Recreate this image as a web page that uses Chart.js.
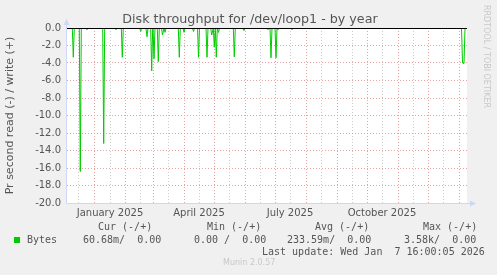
<!DOCTYPE html>
<html>
<head>
<meta charset="utf-8">
<script src="https://cdn.jsdelivr.net/npm/chart.js@4/dist/chart.umd.min.js"></script>
<style>
  html, body { margin: 0; padding: 0; background: #f0f0f0; }
  #wrap { position: relative; width: 497px; height: 275px; overflow: hidden; }
  #chart { position: absolute; left: 0; top: 0; }
  .title { position: absolute; left: 0; width: 500px; top: 11px; text-align: center;
           font-family: "DejaVu Sans", sans-serif; font-size: 12.7px; line-height: 16px; color: #555; }
  .txt { position: absolute; font-family: "DejaVu Sans Mono", monospace; font-size: 10px;
         line-height: 12px; color: #555; white-space: pre; }
  .swatch { position: absolute; left: 14px; top: 237px; width: 6px; height: 6px; background: #00cc00; }
  .munin { position: absolute; left: 223px; top: 258px; font-family: "DejaVu Sans", sans-serif;
           font-size: 8px; line-height: 10px; color: #c8c8c8; }
  .rrd { position: absolute; left: 482px; top: 5px; writing-mode: vertical-rl;
         font-family: "DejaVu Sans", sans-serif; font-size: 8px; color: #c8c8c8; }
</style>
</head>
<body>
<div id="wrap">
  <canvas id="chart" width="497" height="275"></canvas>
  <div class="title">Disk throughput for /dev/loop1 - by year</div>
  <div class="swatch"></div>
  <div id="legend"></div>
  <div class="munin">Munin 2.0.57</div>
  <div class="rrd">RRDTOOL / TOBI OETIKER</div>
</div>
<script>
// days since start of the 400 day window (Dec 3 2024 16:00)
const readDays = [0, 5.3, 6.3, 7.3, 12.3, 13.3, 14.3, 19, 20, 21, 35.7, 36.7, 37.7, 48, 49, 50,
    54.3, 55.3, 56.3, 72.7, 73.7, 74.7, 79, 80, 81, 83.7, 84.7, 85.7, 86, 87, 88, 90.3, 91.3, 92.3,
    94.5, 95.5, 97, 98, 99, 111.3, 112.3, 113.3, 116, 117, 118, 125.5, 126.5, 127.5,
    130.5, 131.5, 132.5, 139, 140, 141, 143.7, 144.7, 146.3, 147.3, 148.3, 149.3, 150.3, 151.5, 152.5,
    166.3, 167.3, 168.3, 176, 177, 178, 200, 201, 202, 203, 204, 205, 208, 209, 210, 211, 212,
    224, 225, 226, 394.5, 395.5, 397, 398, 400];
const readValues = [0, 0, -3.35, 0, 0, -16.4, 0, 0, -0.2, 0, 0, -13.2, 0, 0, -0.2, 0,
    0, -3.35, 0, 0, -0.4, 0, 0, -1.0, 0, 0, -4.9, 0, 0, -3.5, 0, 0, -3.85, 0,
    0, -0.8, 0, -0.5, 0, 0, -3.35, 0, 0, -0.5, 0, 0, -0.4, 0,
    0, -3.35, 0, 0, -3.35, 0, 0, -0.8, 0, -2.2, 0, -3.35, 0, -0.5, 0,
    0, -3.3, 0, 0, -0.3, 0, 0, -0.2, 0, 0, -3.4, 0, 0, -3.4, 0, -0.2, 0,
    0, -0.2, 0, 0, -4.0, -4.05, 0, 0];

const monthStartDays = [27.5, 58.5, 86.5, 117.5, 147.5, 178.5, 208.5, 239.5, 270.5, 300.5, 331.5, 361.5, 392.5];
const midMonthDays = [11.5, 43, 73, 101, 132, 162, 193, 223, 254, 285, 315, 346, 376];
const labelDays = [43, 132, 223, 315];
const labelTexts = ['January 2025', 'April 2025', 'July 2025', 'October 2025'];

const statHeaders = ['Cur (-/+)', 'Min (-/+)', 'Avg (-/+)', 'Max (-/+)'];
const statValues = ['60.68m/  0.00', '0.00 /  0.00', '233.59m/  0.00', '3.58k/  0.00'];
const lastUpdate = 'Last update: Wed Jan  7 16:00:05 2026';

const FONT = 'DejaVu Sans';
const TEXT = '#555';

function buildLegend() {
    const box = document.getElementById('legend');
    const headX = [98, 207, 315, 423];
    const valX = [83, 194, 287, 404];
    let html = '';
    statHeaders.forEach((h, i) => {
        html += `<div class="txt" style="left:${headX[i]}px;top:221px">${h}</div>`;
    });
    html += `<div class="txt" style="left:27px;top:234px">Bytes</div>`;
    statValues.forEach((v, i) => {
        html += `<div class="txt" style="left:${valX[i]}px;top:234px">${v}</div>`;
    });
    html += `<div class="txt" style="left:262px;top:246px">${lastUpdate}</div>`;
    box.innerHTML = html;
}

// white canvas, zero line and rrdtool style axis arrows
const rrdDecor = {
    id: 'rrdDecor',
    beforeDraw(chart) {
        const { ctx, chartArea: a } = chart;
        ctx.save();
        ctx.fillStyle = '#ffffff';
        ctx.fillRect(a.left, a.top, a.right - a.left, a.bottom - a.top);
        ctx.restore();
    },
    afterDatasetsDraw(chart) {
        const { ctx, chartArea: a } = chart;
        const y0 = Math.round(chart.scales.y.getPixelForValue(0)) + 0.5;
        ctx.save();
        ctx.strokeStyle = '#000';
        ctx.lineWidth = 1;
        ctx.beginPath();
        ctx.moveTo(a.left, y0);
        ctx.lineTo(a.right, y0);
        ctx.stroke();

        const axis = '#cfd6f8';
        const xl = Math.round(a.left) - 0.5;
        const yb = Math.round(a.bottom) + 0.5;
        ctx.strokeStyle = axis;
        ctx.beginPath();
        ctx.moveTo(xl, yb);
        ctx.lineTo(xl, a.top - 6);
        ctx.moveTo(xl, yb);
        ctx.lineTo(a.right + 5, yb);
        ctx.stroke();
        ctx.fillStyle = axis;
        ctx.beginPath();
        ctx.moveTo(xl - 3, a.top - 3);
        ctx.lineTo(xl + 3, a.top - 3);
        ctx.lineTo(xl, a.top - 9);
        ctx.closePath();
        ctx.fill();
        ctx.beginPath();
        ctx.moveTo(a.right + 3, yb - 3);
        ctx.lineTo(a.right + 3, yb + 3);
        ctx.lineTo(a.right + 9, yb);
        ctx.closePath();
        ctx.fill();
        ctx.restore();
    }
};

function initChart() {
    const points = readDays.map((d, i) => ({ x: d, y: readValues[i] }));
    const xTicks = monthStartDays.concat(midMonthDays).sort((a, b) => a - b);

    new Chart(document.getElementById('chart').getContext('2d'), {
        type: 'line',
        data: {
            datasets: [{
                label: 'Bytes',
                data: points,
                borderColor: '#00cc00',
                borderWidth: 1,
                pointRadius: 0,
                fill: false,
                tension: 0
            }]
        },
        options: {
            responsive: false,
            animation: false,
            layout: { padding: { left: 0, right: 30, top: 28, bottom: 52 } },
            plugins: {
                legend: { display: false },
                tooltip: { enabled: false },
                title: { display: false }
            },
            scales: {
                x: {
                    type: 'linear',
                    min: 0,
                    max: 400,
                    afterFit: s => { s.height = 20; },
                    afterBuildTicks: s => { s.ticks = xTicks.map(v => ({ value: v })); },
                    border: { display: false, dash: [1, 2] },
                    grid: {
                        drawTicks: false,
                        color: c => monthStartDays.includes(c.tick && c.tick.value) ? '#e4a4a4' : '#cccccc'
                    },
                    ticks: {
                        autoSkip: false,
                        maxRotation: 0,
                        padding: 4,
                        color: TEXT,
                        font: { family: FONT, size: 10 },
                        callback: v => {
                            const i = labelDays.indexOf(v);
                            return i >= 0 ? labelTexts[i] : '';
                        }
                    }
                },
                y: {
                    min: -20,
                    max: 0,
                    afterFit: s => { s.width = 67; },
                    border: { display: false, dash: [1, 2] },
                    grid: {
                        drawTicks: false,
                        color: c => (Math.round(c.tick.value) % 2 === 0) ? '#e4a4a4' : '#cccccc'
                    },
                    ticks: {
                        stepSize: 1,
                        padding: 6,
                        color: TEXT,
                        font: { family: FONT, size: 10 },
                        callback: v => (v % 2 === 0) ? (v === 0 ? '0.0' : v.toFixed(1)) : ''
                    },
                    title: {
                        display: true,
                        text: 'Pr second read (-) / write (+)',
                        color: TEXT,
                        font: { family: FONT, size: 11 },
                        padding: { top: 4, bottom: 0 }
                    }
                }
            }
        },
        plugins: [rrdDecor]
    });
}

document.addEventListener('DOMContentLoaded', function() {
    buildLegend();
    initChart();
});
</script>
</body>
</html>
